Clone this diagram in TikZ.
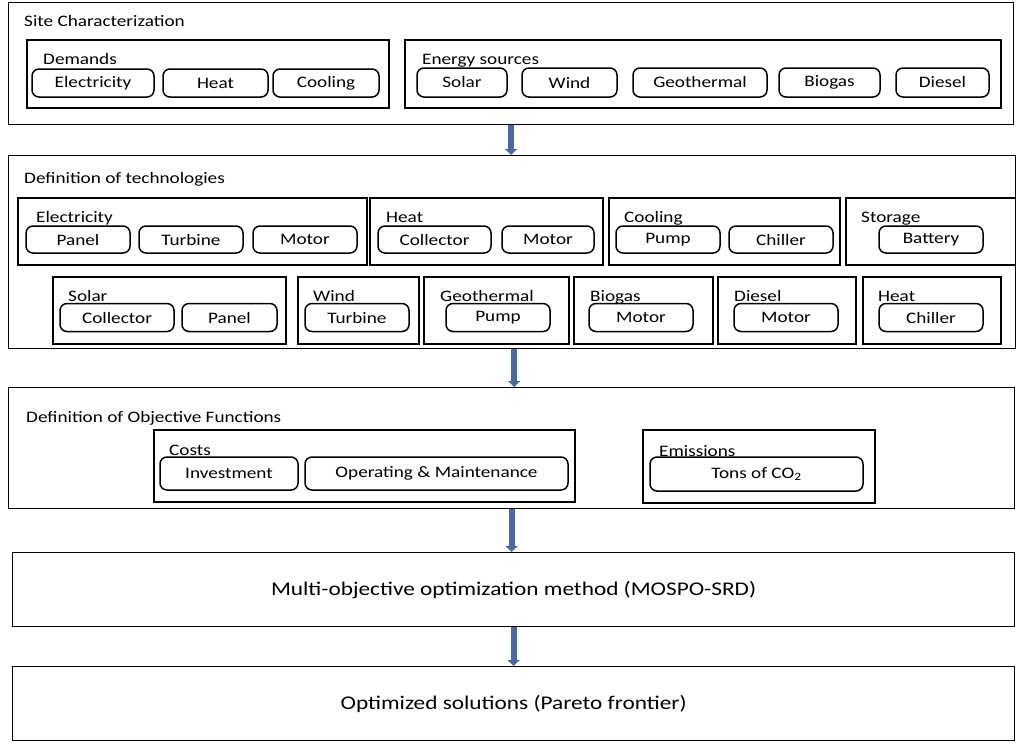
\documentclass[tikz,border=0pt]{standalone}
\usepackage{fontspec}
\setmainfont{Carlito}[FakeStretch=1.2]
\usepackage{tikz}
\usetikzlibrary{arrows.meta}

\definecolor{arrowblue}{RGB}{74,105,160}

\begin{document}
\begin{tikzpicture}[x=1pt, y=-1pt,
    font=\fontsize{16}{19}\selectfont,
    stage/.style={draw, line width=1.2pt, anchor=north west, inner sep=0pt},
    group/.style={draw, line width=1.5pt, anchor=north west, inner sep=0pt},
    item/.style={draw, line width=1.5pt, rounded corners=7pt, inner sep=0pt},
    lbl/.style={anchor=base west, inner sep=0pt},
    flow/.style={draw=arrowblue, line width=6pt, -{Triangle[width=12pt, length=6pt]}}]
    \useasboundingbox (0,0) rectangle (1016,742);

    % site characterization
    \node[stage, minimum width=1005pt, minimum height=122pt] (site) at (8,2) {};
    \node[lbl] (siteL) at (24,26) {Site Characterization};
    \node[group, minimum width=362pt, minimum height=68pt] (dem) at (26,39) {};
    \node[lbl] (demL) at (43,64) {Demands};
    \node[item, minimum width=122pt, minimum height=28pt] (dElec) at (93,83) {Electricity};
    \node[item, minimum width=105pt, minimum height=28pt] (dHeat) at (215.5,83) {Heat};
    \node[item, minimum width=106pt, minimum height=28pt] (dCool) at (326,83) {Cooling};
    \node[group, minimum width=596pt, minimum height=68pt] (src) at (404,39) {};
    \node[lbl] (srcL) at (422,64) {Energy sources};
    \node[item, minimum width=90pt, minimum height=29pt] (sSolar) at (462,82.5) {Solar};
    \node[item, minimum width=95pt, minimum height=29pt] (sWind) at (569.5,82.5) {Wind};
    \node[item, minimum width=134pt, minimum height=29pt] (sGeo) at (700,82.5) {Geothermal};
    \node[item, minimum width=101pt, minimum height=29pt] (sBio) at (829.5,82.5) {Biogas};
    \node[item, minimum width=93pt, minimum height=29pt] (sDies) at (942.5,82.5) {Diesel};

    % definition of technologies
    \node[stage, minimum width=1007pt, minimum height=193pt] (tech) at (8,155) {};
    \node[lbl] (techL) at (24,183) {Definition of technologies};
    \node[group, minimum width=349pt, minimum height=67pt] (tElec) at (17,197) {};
    \node[lbl] (tElecL) at (36,222) {Electricity};
    \node[item, minimum width=104pt, minimum height=27pt] (ePanel) at (78,239.5) {Panel};
    \node[item, minimum width=104pt, minimum height=27pt] (eTurb) at (191,239.5) {Turbine};
    \node[item, minimum width=104pt, minimum height=27pt] (eMotor) at (305,239.5) {Motor};
    \node[group, minimum width=233pt, minimum height=67pt] (tHeat) at (369,197) {};
    \node[lbl] (tHeatL) at (386,222) {Heat};
    \node[item, minimum width=113pt, minimum height=27pt] (hColl) at (434.5,239.5) {Collector};
    \node[item, minimum width=92pt, minimum height=27pt] (hMotor) at (548,239.5) {Motor};
    \node[group, minimum width=231pt, minimum height=67pt] (tCool) at (608,197) {};
    \node[lbl] (tCoolL) at (624,222) {Cooling};
    \node[item, minimum width=104pt, minimum height=27pt] (cPump) at (668,239.5) {Pump};
    \node[item, minimum width=104pt, minimum height=27pt] (cChill) at (781,239.5) {Chiller};
    \node[group, minimum width=170pt, minimum height=67pt] (tStor) at (845,197) {};
    \node[lbl] (tStorL) at (861,222) {Storage};
    \node[item, minimum width=104pt, minimum height=27pt] (stBatt) at (931,239.5) {Battery};

    \node[group, minimum width=233pt, minimum height=67pt] (tSolar) at (52,276) {};
    \node[lbl] (tSolarL) at (68,301) {Solar};
    \node[item, minimum width=114pt, minimum height=28pt] (soColl) at (117,317.5) {Collector};
    \node[item, minimum width=95pt, minimum height=28pt] (soPanel) at (229.5,317.5) {Panel};
    \node[group, minimum width=121pt, minimum height=67pt] (tWind) at (297,276) {};
    \node[lbl] (tWindL) at (313,301) {Wind};
    \node[item, minimum width=104pt, minimum height=28pt] (wTurb) at (357,317.5) {Turbine};
    \node[group, minimum width=145pt, minimum height=67pt] (tGeo) at (423,276) {};
    \node[lbl] (tGeoL) at (440,301) {Geothermal};
    \node[item, minimum width=104pt, minimum height=28pt] (gPump) at (498,317.5) {Pump};
    \node[group, minimum width=139pt, minimum height=67pt] (tBio) at (573,276) {};
    \node[lbl] (tBioL) at (590,301) {Biogas};
    \node[item, minimum width=104pt, minimum height=28pt] (bMotor) at (641,317.5) {Motor};
    \node[group, minimum width=138pt, minimum height=67pt] (tDies) at (717,276) {};
    \node[lbl] (tDiesL) at (734,301) {Diesel};
    \node[item, minimum width=104pt, minimum height=28pt] (diMotor) at (786,317.5) {Motor};
    \node[group, minimum width=138pt, minimum height=67pt] (tHeat2) at (862,276) {};
    \node[lbl] (tHeat2L) at (878,301) {Heat};
    \node[item, minimum width=104pt, minimum height=28pt] (h2Chill) at (931,317.5) {Chiller};

    % objective functions
    \node[stage, minimum width=1006pt, minimum height=121pt] (obj) at (8,387) {};
    \node[lbl] (objL) at (26,422) {Definition of Objective Functions};
    \node[group, minimum width=421pt, minimum height=72pt] (costs) at (153,429) {};
    \node[lbl] (costsL) at (169,455) {Costs};
    \node[item, minimum width=138pt, minimum height=33pt] (cInv) at (229,473.5) {Investment};
    \node[item, minimum width=263pt, minimum height=33pt] (cOM) at (436.5,473.5) {Operating \& Maintenance};
    \node[group, minimum width=232pt, minimum height=73pt] (emis) at (642,429) {};
    \node[lbl] (emisL) at (659,456) {Emissions};
    \node[item, minimum width=213pt, minimum height=34pt] (eTons) at (756.5,474) {Tons of CO\textsubscript{2}};

    % method and result
    \node[stage, minimum width=1002pt, minimum height=74pt] (method) at (12,552) {};
    \node[font=\fontsize{19.4}{23}\selectfont] (methodL) at (method.center) {Multi-objective optimization method (MOSPO-SRD)};
    \node[stage, minimum width=1002pt, minimum height=74pt] (result) at (12,666) {};
    \node[font=\fontsize{19.4}{23}\selectfont] (resultL) at (result.center) {Optimized solutions (Pareto frontier)};

    \draw[flow] (site.south) -- (site.south |- tech.north);
    \draw[flow] (tech.south) ++(2,0) coordinate (t1) -- (t1 |- obj.north);
    \draw[flow] (obj.south) -- (obj.south |- method.north);
    \draw[flow] (method.south) -- (method.south |- result.north);
\end{tikzpicture}
\end{document}
